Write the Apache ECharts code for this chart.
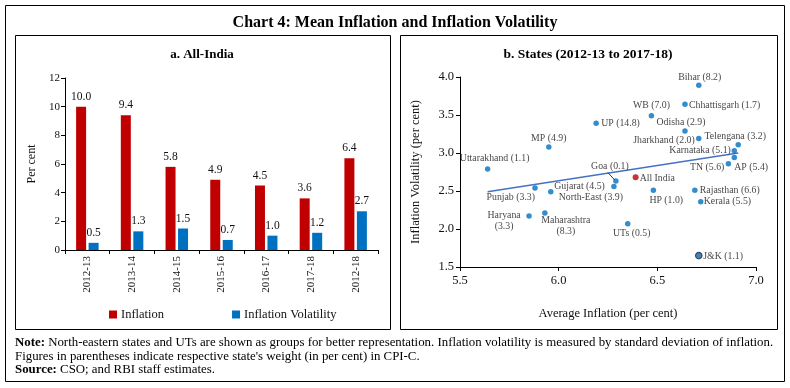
<!DOCTYPE html>
<html>
<head>
<meta charset="utf-8">
<script src="https://cdn.jsdelivr.net/npm/echarts@6/dist/echarts.min.js"></script>
<style>
html,body{margin:0;padding:0;background:#fff;}
#chart{width:790px;height:388px;}
</style>
</head>
<body>
<div id="chart"></div>
<script>
// ---- Panel a: All-India ----
const years = ['2012-13','2013-14','2014-15','2015-16','2016-17','2017-18','2012-18'];
const inflation = [10.0, 9.4, 5.8, 4.9, 4.5, 3.6, 6.4];
const volatility = [0.5, 1.3, 1.5, 0.7, 1.0, 1.2, 2.7];
const barTicks = [0, 2, 4, 6, 8, 10, 12];

// ---- Panel b: States (2012-13 to 2017-18) ----
const stateNames = ['Bihar (8.2)','Chhattisgarh (1.7)','WB (7.0)','UP (14.8)','Odisha (2.9)','Jharkhand (2.0)',
  'Telengana (3.2)','Karnataka (5.1)','AP (5.4)','TN (5.6)','MP (4.9)','Uttarakhand (1.1)','Goa (0.1)',
  'Gujarat (4.5)','Punjab (3.3)','North-East (3.9)','HP (1.0)','Rajasthan (6.6)','Kerala (5.5)',
  'Haryana\n(3.3)','Maharashtra\n(8.3)','UTs (0.5)','J&K (1.1)'];
const avgInflation = [6.71, 6.64, 6.47, 6.19, 6.64, 6.71, 6.91, 6.89, 6.89, 6.86, 5.95, 5.64, 6.29,
  5.96, 5.88, 6.28, 6.48, 6.69, 6.72, 5.85, 5.93, 6.35, 6.71];
const infVolatility = [3.89, 3.64, 3.49, 3.39, 3.29, 3.19, 3.11, 3.03, 2.94, 2.86, 3.08, 2.79, 2.63,
  2.49, 2.54, 2.56, 2.51, 2.51, 2.36, 2.17, 2.21, 2.07, 1.65];
const allIndia = {name: 'All India', x: 6.39, y: 2.68};
const trendX = [5.64, 6.91];
const trendY = [2.49, 3.00];
const xTicks = [5.5, 6.0, 6.5, 7.0];
const yTicks = [1.5, 2.0, 2.5, 3.0, 3.5, 4.0];

// label placement (style only): [align, dx, dy]
const labelPlace = {
  'Bihar (8.2)': ['center', 1, -8],
  'Chhattisgarh (1.7)': ['left', 4, 1],
  'WB (7.0)': ['center', 0, -10],
  'UP (14.8)': ['left', 5, 0],
  'Odisha (2.9)': ['center', -4, -8.5],
  'Jharkhand (2.0)': ['right', -4, 1.5],
  'Telengana (3.2)': ['center', -3, -8],
  'Karnataka (5.1)': ['right', -3.5, 0],
  'AP (5.4)': ['left', 0, 10],
  'TN (5.6)': ['right', -4, 4],
  'MP (4.9)': ['center', 0, -8],
  'Uttarakhand (1.1)': ['center', 7, -10.5],
  'Goa (0.1)': ['center', -6, -14.5],
  'Gujarat (4.5)': ['left', 3.5, -5.5],
  'Punjab (3.3)': ['right', 0, 9],
  'North-East (3.9)': ['right', 9, 10.5],
  'HP (1.0)': ['left', -4, 10.5],
  'Rajasthan (6.6)': ['left', 5, 0],
  'Kerala (5.5)': ['left', 3, 0],
  'Haryana\n(3.3)': ['center', -25, 5],
  'Maharashtra\n(8.3)': ['center', 21, 13],
  'UTs (0.5)': ['center', 4, 10],
  'J&K (1.1)': ['left', 4.5, 1],
  'All India': ['left', 4, 1.5]
};
// leader line for Goa label, relative to its point (style only)
const goaLeader = {from: [-8, -8.5], to: [-1.5, -1.5]};

const FONT = 'Liberation Serif';
const RED = '#C00000';
const BLUE = '#0070C0';
const TXT = '#111';

function lbl(name) {
  return {show: true, position: 'inside', align: 'center', verticalAlign: 'middle',
    formatter: name, fontFamily: FONT, fontSize: 9.8, color: TXT, lineHeight: 10.5};
}
function layoutFor(p) {
  const pl = labelPlace[p.text];
  if (!pl) return {};
  return {align: pl[0], verticalAlign: 'middle', dx: pl[1], dy: pl[2]};
}

const stateData = stateNames.map((n, i) => {
  const item = {name: n, value: [avgInflation[i], infVolatility[i]], label: lbl(n)};
  if (n.startsWith('J&K')) {
    item.itemStyle = {color: '#1f5f9a', borderColor: '#1b2f50', borderWidth: 1.2};
    item.symbolSize = 6.5;
  }
  return item;
});

const chart = echarts.init(document.getElementById('chart'), null, {renderer: 'canvas'});

const axisLine = {show: true, lineStyle: {color: '#000', width: 1}};
const axisTick = {show: true, length: 4, lineStyle: {color: '#000', width: 1}};
const NOTE_FONT = '12.85px "Liberation Serif"';

chart.setOption({
  animation: false,
  backgroundColor: '#fff',
  textStyle: {fontFamily: FONT},
  graphic: [
    {type: 'rect', shape: {x: 5.5, y: 5.5, width: 779, height: 376}, style: {fill: 'none', stroke: '#000', lineWidth: 1}, silent: true},
    {type: 'rect', shape: {x: 15.5, y: 35.5, width: 375, height: 294}, style: {fill: 'none', stroke: '#000', lineWidth: 1}, silent: true},
    {type: 'rect', shape: {x: 400.5, y: 35.5, width: 377, height: 294}, style: {fill: 'none', stroke: '#000', lineWidth: 1}, silent: true},
    {type: 'text', x: 395, y: 23, style: {text: 'Chart 4: Mean Inflation and Inflation Volatility', font: 'bold 16px "Liberation Serif"', fill: '#000', align: 'center', verticalAlign: 'middle'}},
    {type: 'text', x: 202, y: 55, style: {text: 'a. All-India', font: 'bold 13px "Liberation Serif"', fill: '#000', align: 'center', verticalAlign: 'middle'}},
    {type: 'text', x: 588, y: 55, style: {text: 'b. States (2012-13 to 2017-18)', font: 'bold 13.5px "Liberation Serif"', fill: '#000', align: 'center', verticalAlign: 'middle'}},
    {type: 'text', x: 15, y: 343, style: {
      text: '{b|Note:} North-eastern states and UTs are shown as groups for better representation. Inflation volatility is measured by standard deviation of inflation.',
      rich: {b: {fontWeight: 'bold', fontFamily: FONT, fontSize: 12.85, fill: '#000'}},
      font: NOTE_FONT, fill: '#000', verticalAlign: 'middle'}},
    {type: 'text', x: 15, y: 357, style: {
      text: "Figures in parentheses indicate respective state's weight (in per cent) in CPI-C.",
      font: NOTE_FONT, fill: '#000', verticalAlign: 'middle'}},
    {type: 'text', x: 15, y: 370, style: {
      text: '{b|Source:} CSO; and RBI staff estimates.',
      rich: {b: {fontWeight: 'bold', fontFamily: FONT, fontSize: 12.85, fill: '#000'}},
      font: NOTE_FONT, fill: '#000', verticalAlign: 'middle'}}
  ],
  legend: {
    data: ['Inflation', 'Inflation Volatility'],
    left: 104, top: 303, itemWidth: 8, itemHeight: 8, itemGap: 68,
    icon: 'rect',
    textStyle: {fontFamily: FONT, fontSize: 12.5, color: TXT, padding: [0, 0, 0, -1]}
  },
  grid: [
    {left: 65, top: 78, width: 313, height: 172},
    {left: 460, top: 77, width: 296, height: 190}
  ],
  xAxis: [
    {type: 'category', gridIndex: 0, data: years, axisLine: axisLine, axisTick: axisTick,
      axisLabel: {rotate: 90, fontSize: 11, color: TXT, margin: 6, fontFamily: FONT}},
    {type: 'value', gridIndex: 1, min: 5.5, max: 7.0, interval: 0.5, axisLine: axisLine, axisTick: axisTick,
      splitLine: {show: false},
      axisLabel: {fontSize: 12.5, color: TXT, margin: 7, fontFamily: FONT,
        formatter: v => xTicks.includes(+v.toFixed(1)) ? v.toFixed(1) : ''},
      name: 'Average Inflation (per cent)', nameLocation: 'middle', nameGap: 40,
      nameTextStyle: {fontSize: 12.5, color: TXT, fontFamily: FONT}}
  ],
  yAxis: [
    {type: 'value', gridIndex: 0, min: 0, max: 12, interval: 2, axisLine: axisLine, axisTick: axisTick,
      splitLine: {show: false},
      axisLabel: {fontSize: 11, color: TXT, margin: 5, fontFamily: FONT,
        formatter: v => barTicks.includes(v) ? String(v) : ''},
      name: 'Per cent', nameLocation: 'middle', nameGap: 27,
      nameTextStyle: {fontSize: 12, color: TXT, fontFamily: FONT}},
    {type: 'value', gridIndex: 1, min: 1.5, max: 4.0, interval: 0.5, axisLine: axisLine, axisTick: axisTick,
      splitLine: {show: false},
      axisLabel: {fontSize: 12.5, color: TXT, margin: 6, fontFamily: FONT,
        formatter: v => yTicks.includes(+v.toFixed(1)) ? v.toFixed(1) : ''},
      name: 'Inflation Volatility (per cent)', nameLocation: 'middle', nameGap: 38,
      nameTextStyle: {fontSize: 12.5, color: TXT, fontFamily: FONT}}
  ],
  series: [
    {name: 'Inflation', type: 'bar', xAxisIndex: 0, yAxisIndex: 0, data: inflation,
      barWidth: 10, barGap: '25%', itemStyle: {color: RED},
      label: {show: true, position: 'top', distance: 4, fontSize: 11.5, color: TXT, fontFamily: FONT,
        formatter: p => p.value.toFixed(1)}},
    {name: 'Inflation Volatility', type: 'bar', xAxisIndex: 0, yAxisIndex: 0, data: volatility,
      barWidth: 10, barGap: '25%', itemStyle: {color: BLUE},
      label: {show: true, position: 'top', distance: 4, fontSize: 11.5, color: TXT, fontFamily: FONT,
        formatter: p => p.value.toFixed(1)}},
    {name: 'Trend', type: 'line', xAxisIndex: 1, yAxisIndex: 1,
      data: trendX.map((x, i) => [x, trendY[i]]), symbol: 'none',
      lineStyle: {color: '#4472C4', width: 1.5}, z: 1},
    {name: 'States', type: 'scatter', xAxisIndex: 1, yAxisIndex: 1, data: stateData,
      symbolSize: 5.5, itemStyle: {color: BLUE}, z: 3, labelLayout: layoutFor},
    {name: 'All India', type: 'scatter', xAxisIndex: 1, yAxisIndex: 1,
      data: [{name: allIndia.name, value: [allIndia.x, allIndia.y], label: lbl(allIndia.name)}],
      symbolSize: 6, itemStyle: {color: RED}, z: 3, labelLayout: layoutFor}
  ]
});

// Goa leader line, anchored through the chart's own scale
const gi = stateNames.findIndex(n => n.startsWith('Goa'));
const gp = chart.convertToPixel({gridIndex: 1}, [avgInflation[gi], infVolatility[gi]]);
chart.setOption({
  graphic: [{type: 'line', id: 'goaLeader', silent: true, z: 10,
    shape: {x1: gp[0] + goaLeader.from[0], y1: gp[1] + goaLeader.from[1],
            x2: gp[0] + goaLeader.to[0], y2: gp[1] + goaLeader.to[1]},
    style: {stroke: '#222', lineWidth: 0.9}}]
});
</script>
</body>
</html>
